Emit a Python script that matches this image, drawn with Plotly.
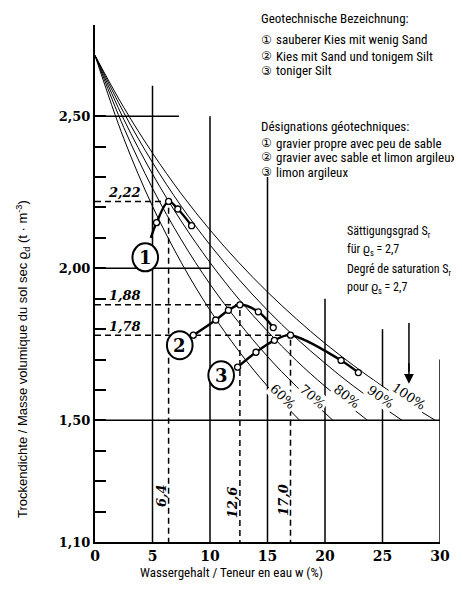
import plotly.graph_objects as go

# ---------------- data ----------------
w_ticks = [0, 5, 10, 15, 20, 25, 30]
rho_ticks = [1.1, 1.2, 1.3, 1.4, 1.5, 1.6, 1.7, 1.8, 1.9, 2.0, 2.1, 2.2, 2.3, 2.4, 2.5]
rho_ticktext = ["1,10", "", "", "", "1,50", "", "", "", "", "2,00", "", "", "", "", "2,50"]

# compaction (Proctor) curves
curve1_w = [4.85, 5.35, 6.4, 7.2, 8.4]
curve1_rho = [2.10, 2.15, 2.22, 2.195, 2.14]
curve2_w = [8.55, 10.5, 11.6, 12.6, 14.2, 15.5]
curve2_rho = [1.78, 1.83, 1.862, 1.88, 1.857, 1.805]
curve3_w = [12.4, 14.0, 15.6, 17.0, 21.4, 22.9]
curve3_rho = [1.675, 1.724, 1.763, 1.78, 1.697, 1.657]

# optimum values
opt_w = [6.4, 12.6, 17.0]
opt_rho = [2.22, 1.88, 1.78]
opt_w_text = ["6,4", "12,6", "17,0"]
opt_rho_text = ["2,22", "1,88", "1,78"]

# saturation curves (rho_s = 2.7)
sat_labels = ["60%", "70%", "80%", "90%", "100%"]
sat_w = [
    [0, 2.5, 5, 7.5, 10, 12.5, 15, 17.8],
    [0, 2.5, 5, 7.5, 10, 12.5, 15, 17.5, 20.7],
    [0, 2.5, 5, 7.5, 10, 12.5, 15, 17.5, 20, 23.7],
    [0, 2.5, 5, 7.5, 10, 12.5, 15, 17.5, 20, 22.5, 26.7],
    [0, 2.5, 5, 7.5, 10, 12.5, 15, 17.5, 20, 22.5, 25, 27.5, 29.6],
]
sat_rho = [
    [2.70, 2.427, 2.204, 2.019, 1.862, 1.728, 1.612, 1.50],
    [2.70, 2.463, 2.263, 2.094, 1.948, 1.822, 1.710, 1.612, 1.50],
    [2.70, 2.490, 2.310, 2.155, 2.019, 1.899, 1.793, 1.697, 1.612, 1.50],
    [2.70, 2.512, 2.348, 2.204, 2.077, 1.964, 1.862, 1.770, 1.688, 1.612, 1.50],
    [2.70, 2.529, 2.379, 2.245, 2.126, 2.019, 1.922, 1.834, 1.753, 1.680, 1.612, 1.549, 1.50],
]
sat_label_w = [16.3, 18.9, 21.9, 24.8, 27.3]
sat_label_rho = [1.577, 1.577, 1.577, 1.577, 1.577]
sat_label_angle = [44, 41, 38, 36, 34]

# arrow pointing at the 100% curve
arrow_w = 27.3
arrow_rho_from = 1.82
arrow_rho_to = 1.62

# partial grid lines
vline_w = [5, 10, 15, 20, 25, 30]
vline_top = [2.60, 2.50, 2.30, 1.90, 1.80, 1.70]
hline_rho = [2.50, 2.00, 1.50]
hline_end = [7.3, 10, 30]

# circled curve numbers
badge_text = ["1", "2", "3"]
badge_w = [4.37, 7.37, 10.97]
badge_rho = [2.036, 1.747, 1.648]

legend_de = ["sauberer Kies mit wenig Sand", "Kies mit Sand und tonigem Silt", "toniger Silt"]
legend_fr = ["gravier propre avec peu de sable", "gravier avec sable et limon argileux", "limon argileux"]
circled = ["\u2460", "\u2461", "\u2462"]

# ---------------- layout helpers ----------------
# the page body has an 8px margin, so the figure is drawn 8px smaller and positions
# below are given in page pixels (reference coordinates)
OFF = 8
W, H = 462 - OFF, 598 - OFF
ML, MT = 95 - OFF, 25 - OFF
PW, PH = 350, 517
MR = W - ML - PW
MB = H - MT - PH
def px(x):
    return (x - 95) / PW
def py(y):
    return (542 - y) / PH

NARROW = "Liberation Sans Narrow, Roboto Condensed, Liberation Sans, sans-serif"
SERIF = "DejaVu Serif, serif"

fig = go.Figure()

# saturation curves
for ws, rs in zip(sat_w, sat_rho):
    fig.add_trace(go.Scatter(x=ws, y=rs, mode="lines", line=dict(color="black", width=1, shape="spline"),
                             hoverinfo="skip", showlegend=False))

# dashed optimum lines
for w, r in zip(opt_w, opt_rho):
    fig.add_trace(go.Scatter(x=[0, w, w], y=[r, r, 1.10], mode="lines",
                             line=dict(color="black", width=1.5, dash="6px,4px"),
                             hoverinfo="skip", showlegend=False))

# compaction curves
curves = [(curve1_w, curve1_rho, 1), (curve2_w, curve2_rho, 0), (curve3_w, curve3_rho, 0)]
for cw, cr, skip in curves:
    fig.add_trace(go.Scatter(x=cw, y=cr, mode="lines", line=dict(color="black", width=2.4, shape="spline"),
                             hoverinfo="skip", showlegend=False))
    fig.add_trace(go.Scatter(x=cw[skip:], y=cr[skip:], mode="markers",
                             marker=dict(symbol="circle", size=6, color="white",
                                         line=dict(color="black", width=1.3)),
                             hoverinfo="skip", showlegend=False))

shapes = []
for w, top in zip(vline_w, vline_top):
    shapes.append(dict(type="line", x0=w, x1=w, y0=1.10, y1=top, xref="x", yref="y",
                       line=dict(color="black", width=1.5), layer="below"))
for r, e in zip(hline_rho, hline_end):
    shapes.append(dict(type="line", x0=0, x1=e, y0=r, y1=r, xref="x", yref="y",
                       line=dict(color="black", width=1.5), layer="below"))
rx, ry = 13 / (PW / 30), 14 / (PH / 1.7)
for w, r in zip(badge_w, badge_rho):
    shapes.append(dict(type="circle", x0=w - rx, x1=w + rx, y0=r - ry, y1=r + ry, xref="x", yref="y",
                       line=dict(color="black", width=2), fillcolor="white", layer="above"))
# arrow shaft
shapes.append(dict(type="line", x0=arrow_w, x1=arrow_w, y0=arrow_rho_from, y1=arrow_rho_to + 0.04,
                   xref="x", yref="y", line=dict(color="black", width=1.5)))

ann = []
for t, w, r in zip(badge_text, badge_w, badge_rho):
    ann.append(dict(x=w, y=r, xref="x", yref="y", text="<b>%s</b>" % t, showarrow=False,
                    font=dict(family=SERIF, size=18, color="black"), xanchor="center", yanchor="middle"))
# optimum labels
for t, r in zip(opt_rho_text, opt_rho):
    ann.append(dict(x=2.6, y=r, xref="x", yref="y", text="<b><i>%s</i></b>" % t, showarrow=False,
                    yshift=9, font=dict(family=SERIF, size=13, color="black"),
                    xanchor="center", yanchor="middle"))
for t, w, yv in zip(opt_w_text, opt_w, [1.253, 1.23, 1.237]):
    ann.append(dict(x=w, y=yv, xref="x", yref="y", text="<b><i>%s</i></b>" % t, showarrow=False,
                    xshift=-7, textangle=-90, font=dict(family=SERIF, size=13, color="black"),
                    xanchor="center", yanchor="middle"))
# saturation labels
for t, w, r, a in zip(sat_labels, sat_label_w, sat_label_rho, sat_label_angle):
    ann.append(dict(x=w, y=r, xref="x", yref="y", text=t, showarrow=False, textangle=a,
                    bgcolor="white", borderpad=1,
                    font=dict(family=SERIF, size=13, color="black"),
                    xanchor="center", yanchor="middle"))
# arrow head
ann.append(dict(x=arrow_w, y=arrow_rho_to, ax=0, ay=-22, xref="x", yref="y",
                showarrow=True, arrowhead=2, arrowsize=1.3, arrowwidth=1.5, arrowcolor="black", text=""))

# legend blocks
def txt(x, y, s, size=13, family=NARROW, anchor="left", angle=0):
    ann.append(dict(x=px(x), y=py(y), xref="paper", yref="paper", text=s, showarrow=False,
                    xanchor=anchor, yanchor="middle", textangle=angle,
                    font=dict(family=family, size=size, color="black")))

txt(261, 18, "Geotechnische Bezeichnung:")
for i, (c, s) in enumerate(zip(circled, legend_de)):
    yy = [40, 56, 71][i]
    txt(261, yy, c, size=12, family="DejaVu Sans")
    txt(277, yy, s)
txt(261, 126, "Désignations géotechniques:")
for i, (c, s) in enumerate(zip(circled, legend_fr)):
    yy = [143, 157, 172][i]
    txt(261, yy, c, size=12, family="DejaVu Sans")
    txt(277, yy, s)

txt(349, 232, "Sättigungsgrad S<sub>r</sub>", size=12)
txt(349, 250, "für ϱ<sub>s</sub> = 2,7", size=12)
txt(349, 270, "Degré de saturation S<sub>r</sub>", size=12)
txt(349, 288, "pour ϱ<sub>s</sub> = 2,7", size=12)

txt(233, 572, "Wassergehalt / Teneur en eau w (%)", size=13, anchor="center")
txt(22, 359, "Trockendichte / Masse volumique du sol sec ϱ<sub>d</sub> (t · m<sup>-3</sup>)",
    size=13, family="Liberation Sans, Arial, sans-serif", anchor="center", angle=-90)

fig.update_layout(
    width=W, height=H,
    margin=dict(l=ML, r=MR, t=MT, b=MB, pad=0),
    plot_bgcolor="white", paper_bgcolor="white",
    showlegend=False,
    shapes=shapes, annotations=ann,
    xaxis=dict(range=[0, 30], tickvals=w_ticks, ticktext=["<b>%d</b>" % v for v in w_ticks],
               showgrid=False, zeroline=False, showline=True, linecolor="black", linewidth=2,
               ticks="", tickfont=dict(family=SERIF, size=14, color="black"), fixedrange=True),
    yaxis=dict(range=[1.10, 2.80], tickvals=rho_ticks,
               ticktext=[("<b>%s</b>" % t) if t else "" for t in rho_ticktext],
               showgrid=False, zeroline=False, showline=True, linecolor="black", linewidth=2,
               ticks="inside", ticklen=11, tickwidth=1.5, tickcolor="black",
               tickfont=dict(family=SERIF, size=13, color="black"), fixedrange=True),
)

fig.write_html("out.html")
